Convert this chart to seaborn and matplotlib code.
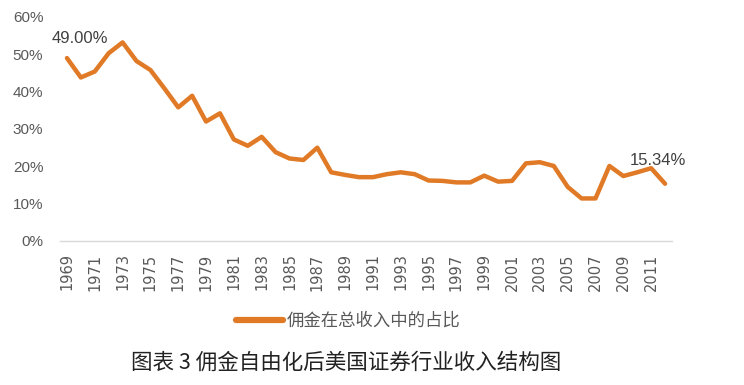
import pandas as pd
import seaborn as sns
import matplotlib.pyplot as plt
from matplotlib.ticker import PercentFormatter

sns.set_style('white')
plt.rcParams['font.family'] = ['Liberation Sans', 'Noto Sans CJK SC', 'DejaVu Sans']

years = list(range(1969, 2013))
share = [49.0, 43.8, 45.4, 50.3, 53.2, 48.2, 45.8, 40.9, 35.8, 38.9,
         32.0, 34.2, 27.2, 25.5, 27.9, 23.8, 22.1, 21.7, 25.0, 18.4,
         17.7, 17.1, 17.1, 17.9, 18.4, 17.9, 16.2, 16.1, 15.7, 15.7,
         17.5, 15.9, 16.1, 20.8, 21.1, 20.1, 14.5, 11.4, 11.4, 20.1,
         17.4, 18.4, 19.5, 15.34]
series_name = '佣金在总收入中的占比'
caption = '图表 3 佣金自由化后美国证券行业收入结构图'

df = pd.DataFrame({'year': years, 'share': [v / 100 for v in share]})

fig = plt.figure(figsize=(7.44, 3.85), dpi=100)
ax = fig.add_axes([60 / 744, 1 - 241 / 385, 612 / 744, 224 / 385])

sns.lineplot(data=df, x='year', y='share', color='#E07A26', linewidth=3.2,
             label=series_name, ax=ax)

ax.set_xlim(1968.5, 2012.5)
ax.set_ylim(0, 0.6)
ax.set_yticks([i / 10 for i in range(7)])
ax.yaxis.set_major_formatter(PercentFormatter(1.0, decimals=0))
ax.set_xticks(years[::2])
ax.set_xticklabels([str(y) for y in years[::2]], rotation=90,
                   family='DejaVu Sans', fontsize=10.5)
ax.tick_params(axis='both', length=0, colors='#595959')
ax.tick_params(axis='y', pad=12, labelsize=11)
ax.tick_params(axis='x', pad=9)
ax.set_xlabel('')
ax.set_ylabel('')
for s in ['top', 'right', 'left']:
    ax.spines[s].set_visible(False)
ax.spines['bottom'].set_color('#D9D9D9')
ax.spines['bottom'].set_linewidth(1)

ax.annotate('49.00%', (years[0], share[0] / 100), xytext=(13, 20),
            textcoords='offset pixels', ha='center', va='center',
            fontsize=12, color='#404040')
ax.annotate('15.34%', (years[-1], share[-1] / 100), xytext=(-7, 23),
            textcoords='offset pixels', ha='center', va='center',
            fontsize=12, color='#404040')

leg = ax.legend(loc='center', bbox_to_anchor=(348 / 744, 1 - 321 / 385),
                bbox_transform=fig.transFigure, frameon=False,
                handlelength=2.7, handletextpad=0.2,
                prop={'family': ['Noto Sans CJK SC'], 'size': 12.5})
for t in leg.get_texts():
    t.set_color('#595959')
for h in leg.get_lines():
    h.set_linewidth(4.5)

fig.text(346 / 744, 1 - 363 / 385, caption, ha='center', va='center',
         fontsize=15.5, color='#222222', family=['Noto Sans CJK SC'],
         fontweight='light')

fig.savefig('out.png', dpi=100)
